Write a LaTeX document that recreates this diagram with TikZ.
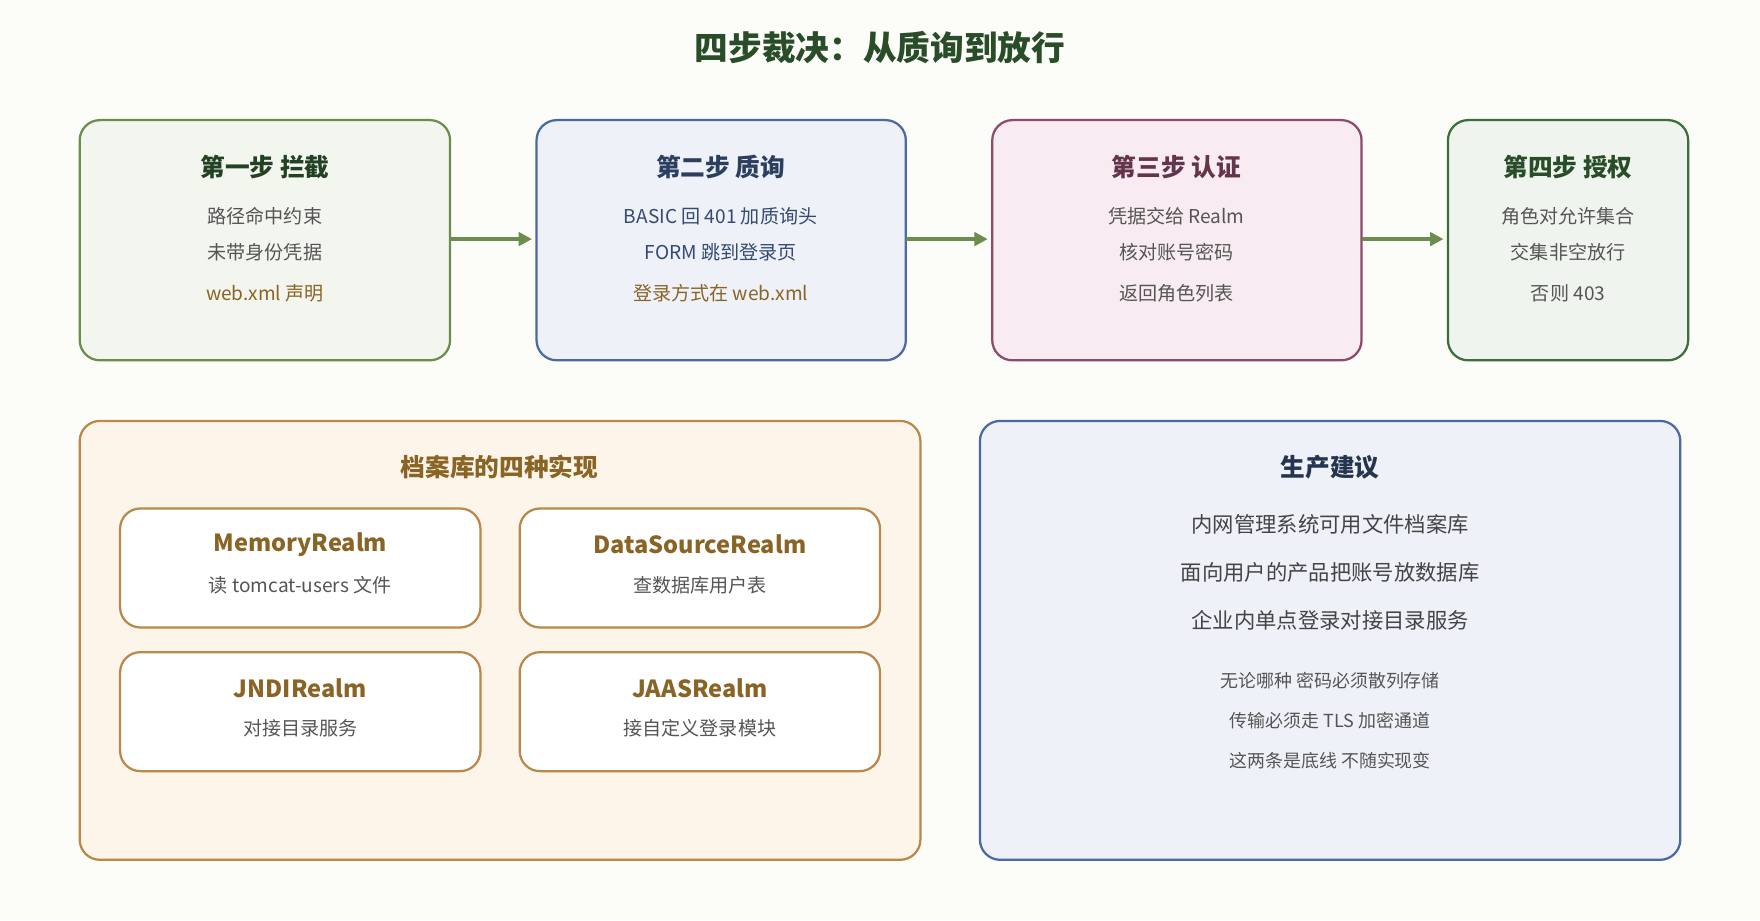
\documentclass[tikz,border=0pt]{standalone}
\usepackage{fontspec}
\setmainfont{Noto Sans CJK SC}
\usetikzlibrary{arrows.meta}
\definecolor{bgcol}{HTML}{FCFCF8}
\definecolor{gline}{HTML}{6B8E4E}
\definecolor{gfill}{HTML}{F3F5EF}
\definecolor{bline}{HTML}{4A6AA0}
\definecolor{bfill}{HTML}{EEF1F7}
\definecolor{pline}{HTML}{8E4A6A}
\definecolor{pfill}{HTML}{F8ECF2}
\definecolor{dline}{HTML}{3A6E3A}
\definecolor{dfill}{HTML}{EFF5EE}
\definecolor{oline}{HTML}{B8894A}
\definecolor{ofill}{HTML}{FDF5EA}
\definecolor{brown}{HTML}{8A6424}
\definecolor{txt}{HTML}{555555}
\tikzset{
  box/.style={draw, line width=1pt, rounded corners=9pt},
  ttl/.style={font=\fontsize{11}{13}\selectfont\bfseries},
  body/.style={font=\fontsize{8.5}{10}\selectfont, text=txt},
  small/.style={font=\fontsize{8}{10}\selectfont, text=txt},
  flow/.style={-{Triangle[length=6pt,width=6pt]}, line width=1.6pt, gline},
}
\begin{document}
\begin{tikzpicture}[x=0.5pt,y=-0.5pt]
\fill[bgcol] (0,0) rectangle (1568,820);
\useasboundingbox (0,0) rectangle (1568,820);
\node[font=\fontsize{15}{18}\selectfont\bfseries, text=dline!70!black] (title) at (784,42) {四步裁决：从质询到放行};
% four steps
\draw[box, draw=gline, fill=gfill] (71,107) rectangle (401,321);
\draw[box, draw=bline, fill=bfill] (478,107) rectangle (807,321);
\draw[box, draw=pline, fill=pfill] (884,107) rectangle (1213,321);
\draw[box, draw=dline, fill=dfill] (1290,107) rectangle (1504,321);
\coordinate (s1r) at (401,213); \coordinate (s2l) at (478,213);
\coordinate (s2r) at (807,213); \coordinate (s3l) at (884,213);
\coordinate (s3r) at (1213,213); \coordinate (s4l) at (1290,213);
\draw[flow] (s1r) -- ([xshift=-2]s2l);
\draw[flow] (s2r) -- ([xshift=-2]s3l);
\draw[flow] (s3r) -- ([xshift=-2]s4l);
\node[ttl, text=dline!60!black] (t1) at (236,149) {第一步 拦截};
\node[body] (t1a) at (236,193) {路径命中约束};
\node[body] (t1b) at (236,225) {未带身份凭据};
\node[body, text=brown] (t1c) at (236,261) {web.xml 声明};
\node[ttl, text=bline!60!black] (t2) at (642,149) {第二步 质询};
\node[body, text=bline!70!black] (t2a) at (642,193) {BASIC 回 401 加质询头};
\node[body, text=bline!70!black] (t2b) at (642,225) {FORM 跳到登录页};
\node[body, text=brown] (t2c) at (642,261) {登录方式在 web.xml};
\node[ttl, text=pline!70!black] (t3) at (1048,149) {第三步 认证};
\node[body] (t3a) at (1048,193) {凭据交给 Realm};
\node[body] (t3b) at (1048,225) {核对账号密码};
\node[body] (t3c) at (1048,261) {返回角色列表};
\node[ttl, text=dline!70!black] (t4) at (1397,149) {第四步 授权};
\node[body] (t4a) at (1397,193) {角色对允许集合};
\node[body] (t4b) at (1397,225) {交集非空放行};
\node[body] (t4c) at (1397,261) {否则 403};
% realms
\draw[box, draw=oline, fill=ofill] (71,375) rectangle (820,766);
\node[ttl, text=brown] (rt) at (445,416) {档案库的四种实现};
\foreach \x/\y/\nm/\sub in {107/453/MemoryRealm/读 tomcat-users 文件, 463/453/DataSourceRealm/查数据库用户表,
  107/581/JNDIRealm/对接目录服务, 463/581/JAASRealm/接自定义登录模块} {
  \draw[box, draw=oline, fill=white] (\x,\y) rectangle ++(321,106);
  \node[ttl, font=\fontsize{10.5}{12}\selectfont\bfseries, text=brown] (n\nm) at (\x+160.5,\y+32) {\nm};
  \node[body] (s\nm) at (\x+160.5,\y+68) {\sub};
}
% advice
\draw[box, draw=bline, fill=bfill] (873,375) rectangle (1497,766);
\node[ttl, text=bline!50!black] (at) at (1185,416) {生产建议};
\node[body, font=\fontsize{9.5}{11}\selectfont, text=txt!80!black] (a1) at (1185,467) {内网管理系统可用文件档案库};
\node[body, font=\fontsize{9.5}{11}\selectfont, text=txt!80!black] (a2) at (1185,510) {面向用户的产品把账号放数据库};
\node[body, font=\fontsize{9.5}{11}\selectfont, text=txt!80!black] (a3) at (1185,553) {企业内单点登录对接目录服务};
\node[small] (b1) at (1185,606) {无论哪种 密码必须散列存储};
\node[small] (b2) at (1185,642) {传输必须走 TLS 加密通道};
\node[small] (b3) at (1185,678) {这两条是底线 不随实现变};
\end{tikzpicture}
\end{document}
